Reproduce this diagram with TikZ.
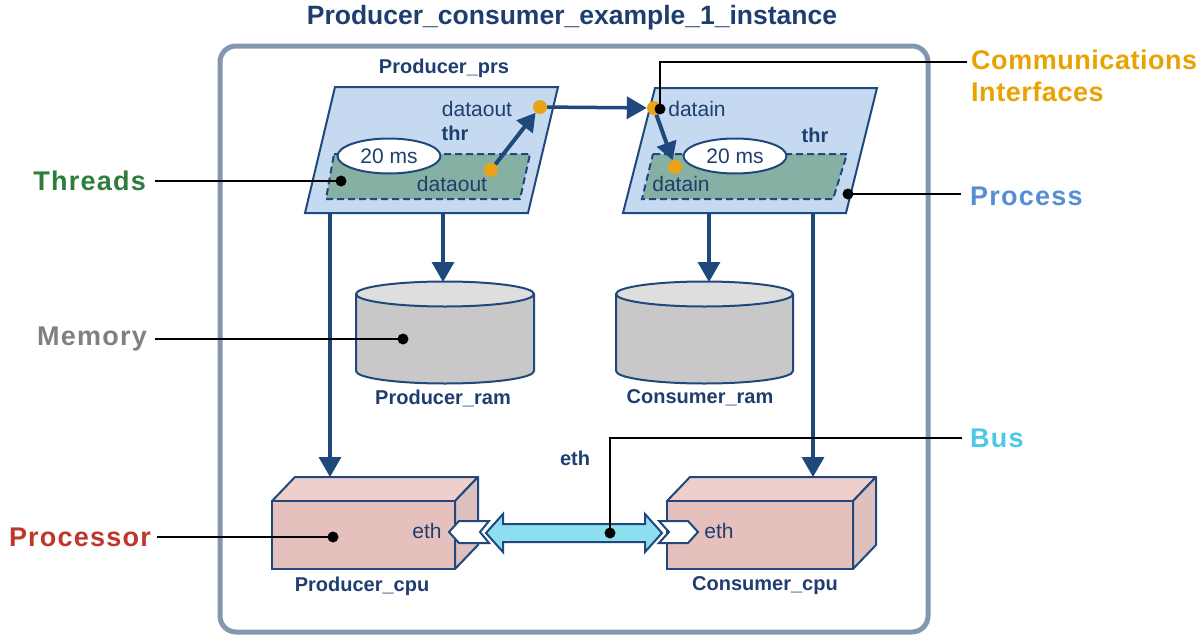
\documentclass[tikz,border=0pt]{standalone}
\usepackage{fontspec}
\setmainfont{Liberation Sans}
\newfontfamily\calloutfont[LetterSpace=4.5]{Liberation Sans}
\newfontfamily\commfont[LetterSpace=2]{Liberation Sans}
\usetikzlibrary{arrows.meta,shapes.geometric}
\definecolor{navy}{RGB}{31,73,125}
\definecolor{txtnavy}{RGB}{31,62,112}
\definecolor{frame}{RGB}{132,151,176}
\definecolor{prsfill}{RGB}{197,217,241}
\definecolor{thrfill}{RGB}{134,176,164}
\definecolor{portorange}{RGB}{232,163,23}
\definecolor{memfill}{RGB}{200,200,200}
\definecolor{memtop}{RGB}{222,222,222}
\definecolor{cpufront}{RGB}{230,192,188}
\definecolor{cputop}{RGB}{238,207,204}
\definecolor{cpuside}{RGB}{222,192,190}
\definecolor{busfill}{RGB}{141,222,238}
\definecolor{cgreen}{RGB}{46,125,62}
\definecolor{cgray}{RGB}{128,128,128}
\definecolor{cred}{RGB}{190,55,42}
\definecolor{cblue}{RGB}{85,142,213}
\definecolor{ccyan}{RGB}{77,200,230}
\definecolor{corange}{RGB}{232,162,2}
\tikzset{
  lbl/.style={font=\fontsize{20}{24}\selectfont\bfseries, text=txtnavy, inner sep=0pt},
  reg/.style={font=\fontsize{21}{24}\selectfont, text=txtnavy, inner sep=0pt},
  callout/.style={font=\calloutfont\fontsize{27}{32}\selectfont\bfseries, inner sep=0pt},
  arr/.style={draw=navy, line width=3.5pt, -{Triangle[length=20pt,width=22pt]}},
  cline/.style={draw=black, line width=2pt},
  bdot/.style={circle, fill=black, minimum size=11pt, inner sep=0pt},
  odot/.style={circle, fill=portorange, minimum size=14pt, inner sep=0pt},
  edge/.style={draw=navy, line width=2pt},
  timer/.style={ellipse, draw=navy, line width=2pt, fill=white, minimum width=103pt, minimum height=35pt, inner sep=0pt, font=\fontsize{21}{24}\selectfont, text=txtnavy},
}
\begin{document}
\begin{tikzpicture}[x=1pt,y=-1pt]
\useasboundingbox (0,0) rectangle (1203,635);

% title and frame
\node[font=\fontsize{26.5}{30}\selectfont\bfseries, text=txtnavy] (title) at (572,18) {Producer\_consumer\_example\_1\_instance};
\draw[frame, line width=5pt, rounded corners=16pt] (220,46) rectangle (928,632);

% processes
\draw[edge, fill=prsfill] (335,87) -- (558,87) -- (528,213) -- (305,213) -- cycle;
\draw[edge, fill=prsfill] (655,88) -- (877,88) -- (846,213) -- (623,213) -- cycle;
\node[lbl] (prslbl) at (444,68) {Producer\_prs};

% threads
\draw[navy, line width=2pt, dash pattern=on 7pt off 4pt, fill=thrfill] (334,154) -- (530,154) -- (520,199) -- (326,199) -- cycle;
\draw[navy, line width=2pt, dash pattern=on 7pt off 4pt, fill=thrfill] (653,154) -- (847,154) -- (833,199) -- (642,199) -- cycle;
\node[timer] (t1) at (389,156) {20 ms};
\node[timer] (t2) at (735,156) {20 ms};
\node[lbl] (thr1) at (455,133) {thr};
\node[lbl] (thr2) at (815,135) {thr};
\node[reg] (dout1) at (477,109) {dataout};
\node[reg] (dout2) at (452,184) {dataout};
\node[reg] (din1) at (697,109) {datain};
\node[reg] (din2) at (681,184) {datain};

% ports
\node[odot] (pout) at (540,107) {};
\node[odot] (tout) at (491,170) {};
\node[odot] (pin) at (654,108) {};
\node[odot] (tin) at (675,167) {};
\draw[arr, line width=4pt, -{Triangle[length=18pt,width=20pt]}] (tout) -- (pout);
\draw[arr] (pout) -- (pin);
\draw[arr, line width=4pt, -{Triangle[length=18pt,width=20pt]}] (pin) -- (tin);

% memories
\foreach \cx/\rx in {445/89, 704.5/88.5}{
  \fill[memfill] (\cx-\rx,294) rectangle (\cx+\rx,371);
  \fill[memfill] (\cx,371) ellipse [x radius=\rx, y radius=12.5];
  \draw[edge] (\cx-\rx,294) -- (\cx-\rx,371) arc[start angle=180, end angle=0, x radius=\rx, y radius=12.5] -- (\cx+\rx,294);
  \draw[edge, fill=memtop] (\cx,294) ellipse [x radius=\rx, y radius=12.5];
}
\node[lbl] (pramlbl) at (443,398) {Producer\_ram};
\node[lbl] (cramlbl) at (700,398) {Consumer\_ram};

% processors
\draw[edge, fill=cputop, line join=round] (272,501) -- (295,477) -- (478,477) -- (455,501) -- cycle;
\draw[edge, fill=cpuside, line join=round] (455,501) -- (478,477) -- (478,545) -- (455,569) -- cycle;
\draw[edge, fill=cpufront] (272,501) rectangle (455,569);
\draw[edge, fill=cputop, line join=round] (667,501) -- (690,477) -- (876,477) -- (853,501) -- cycle;
\draw[edge, fill=cpuside, line join=round] (853,501) -- (876,477) -- (876,545) -- (853,569) -- cycle;
\draw[edge, fill=cpufront] (667,501) rectangle (853,569);
\node[lbl] (pcpulbl) at (362,586) {Producer\_cpu};
\node[lbl] (ccpulbl) at (765,586) {Consumer\_cpu};
\node[reg] (eth1) at (427,531) {eth};
\node[reg] (eth2) at (719,531) {eth};

% bus access ports and bus
\draw[edge, fill=white, line join=miter] (449,532) -- (459,521) -- (489,521) -- (480,532) -- (489,543) -- (459,543) -- cycle;
\draw[edge, fill=white, line join=miter] (659,521) -- (688,521) -- (698,532) -- (688,543) -- (659,543) -- (669,532) -- cycle;
\draw[edge, fill=busfill, line join=miter] (486,533) -- (503,514) -- (503,524) -- (645,524) -- (645,514) -- (662,533) -- (645,552) -- (645,542) -- (503,542) -- (503,552) -- cycle;
\node[lbl] (ethlbl) at (575,458) {eth};

% bindings
\coordinate (pb1) at (443,213); \coordinate (mt1) at (443,282);
\coordinate (pb2) at (709,213); \coordinate (mt2) at (709,282);
\coordinate (pb3) at (330,213); \coordinate (ct1) at (330,477);
\coordinate (pb4) at (813,213); \coordinate (ct2) at (813,477);
\draw[arr] (pb1) -- (mt1);
\draw[arr] (pb2) -- (mt2);
\draw[arr] (pb3) -- (ct1);
\draw[arr] (pb4) -- (ct2);

% callouts
\node[callout, text=cgreen, anchor=east] (cthr) at (146,181) {Threads};
\node[callout, text=cgray, anchor=east] (cmem) at (147,339) {Memory};
\node[callout, text=cred, anchor=east] (cproc) at (151,537) {Processor};
\node[callout, text=cblue, anchor=west] (cprs) at (970,196) {Process};
\node[callout, text=ccyan, anchor=west] (cbus) at (970,438) {Bus};
\node[inner sep=0pt, text=corange, anchor=west, align=left, font=\commfont\fontsize{27}{32}\selectfont\bfseries] (ccom) at (971,76) {Communications\\Interfaces};

\node[bdot] (d1) at (341,181) {};
\node[bdot] (d2) at (403,339) {};
\node[bdot] (d3) at (333,537) {};
\node[bdot] (d4) at (848,194) {};
\node[bdot] (d5) at (660,109) {};
\node[bdot] (d6) at (610,533) {};
\coordinate (k1) at (155,181);
\coordinate (k2) at (155,339);
\coordinate (k3) at (157,537);
\coordinate (k4) at (961,194);
\coordinate (k5) at (967,62);
\coordinate (k6) at (962,438);
\draw[cline] (k1) -- (d1.center);
\draw[cline] (k2) -- (d2.center);
\draw[cline] (k3) -- (d3.center);
\draw[cline] (k4) -- (d4.center);
\draw[cline] (k5) -- (660,62) -- (d5.center);
\draw[cline] (k6) -- (610,438) -- (d6.center);
\end{tikzpicture}
\end{document}
